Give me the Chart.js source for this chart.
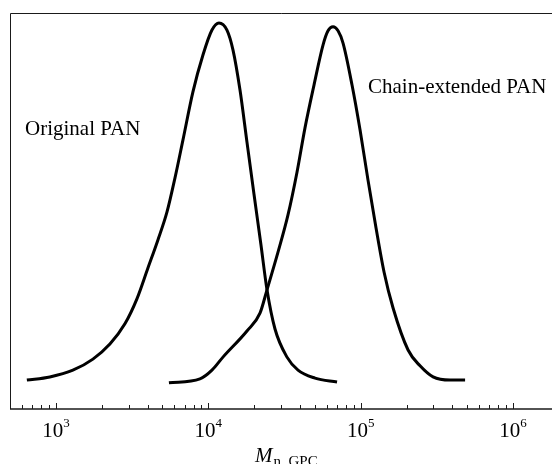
<!DOCTYPE html>
<html>
<head>
<meta charset="utf-8">
<script src="https://cdn.jsdelivr.net/npm/chart.js@4.4.1/dist/chart.umd.min.js"></script>
<style>
  body { margin: 0; background: #fff; }
  canvas { display: block; }
</style>
</head>
<body>
<canvas id="gpc" width="552" height="464"></canvas>
<script>
// GPC traces: molar mass vs. detector signal (arb. units, 0-100)
const originalM = [645, 913, 1293, 1750, 2262, 2838, 3402, 4018, 4673, 5354, 6042, 6817, 7930, 9226,
  10570, 11750, 13260, 14520, 16140, 17940, 19940, 22170, 24280, 27400, 32850, 38790, 50140, 69960];
const originalSignal = [7.3, 8.1, 9.8, 12.6, 16.4, 21.5, 27.8, 35.6, 42.7, 49.7, 58.3, 67.9, 80.1, 89.4,
  95.7, 97.5, 95.7, 90.7, 80.6, 67.4, 54.3, 41.4, 30.1, 20.2, 13.1, 9.8, 7.8, 6.8];

const extendedM = [5518, 8817, 10570, 12480, 17940, 21840, 24280, 28670, 33340, 38200, 43110,
  49390, 56590, 61040, 65820, 71030, 76590, 87740, 99010, 111700, 126100, 142300, 163100,
  204600, 245200, 298500, 386000, 484200];
const extendedSignal = [6.6, 7.6, 9.8, 13.1, 19.7, 24.2, 30.1, 39.6, 49.0, 59.8, 71.0,
  81.8, 91.9, 95.5, 96.5, 95.5, 92.4, 81.8, 70.5, 57.8, 45.7, 34.6, 25.5,
  14.9, 10.9, 8.1, 7.3, 7.3];

// axis ticks
const majorTicks = [1e3, 1e4, 1e5, 1e6];
const majorExponents = ['3', '4', '5', '6'];
const minorTicks = [600, 700, 800, 900,
  2000, 3000, 4000, 5000, 6000, 7000, 8000, 9000,
  20000, 30000, 40000, 50000, 60000, 70000, 80000, 90000,
  200000, 300000, 400000, 500000, 600000, 700000, 800000, 900000];

const curveLabels = ['Original PAN', 'Chain-extended PAN'];

const serif = '"Liberation Serif", "DejaVu Serif", serif';

const toPoints = (xs, ys) => xs.map((x, i) => ({ x: x, y: ys[i] }));

// frame, inward ticks, 10^n labels and text drawn on top of the chart
const frame = {
  id: 'frame',
  afterDraw(chart) {
    const { ctx, chartArea: a, scales: { x, y } } = chart;
    ctx.save();
    ctx.strokeStyle = '#1a1a1a';
    ctx.lineWidth = 1;
    ctx.beginPath();
    ctx.moveTo(a.left + 0.5, a.bottom);
    ctx.lineTo(a.left + 0.5, a.top + 0.5);
    ctx.lineTo(a.right, a.top + 0.5);
    ctx.stroke();

    ctx.lineWidth = 1.5;
    ctx.beginPath();
    ctx.moveTo(a.left, a.bottom);
    ctx.lineTo(a.right, a.bottom);
    ctx.stroke();

    ctx.lineWidth = 1;
    ctx.beginPath();
    majorTicks.forEach(v => {
      const px = Math.round(x.getPixelForValue(v)) + 0.5;
      ctx.moveTo(px, a.bottom);
      ctx.lineTo(px, a.bottom - 6);
    });
    minorTicks.forEach(v => {
      const px = Math.round(x.getPixelForValue(v)) + 0.5;
      ctx.moveTo(px, a.bottom);
      ctx.lineTo(px, a.bottom - 4);
    });
    ctx.stroke();

    // tick labels 10^n
    ctx.fillStyle = '#000';
    ctx.textBaseline = 'alphabetic';
    ctx.textAlign = 'left';
    majorTicks.forEach((v, i) => {
      const px = x.getPixelForValue(v);
      ctx.font = '21px ' + serif;
      const wBase = ctx.measureText('10').width;
      ctx.font = '13px ' + serif;
      const wExp = ctx.measureText(majorExponents[i]).width;
      const start = px - (wBase + wExp) / 2;
      ctx.font = '21px ' + serif;
      ctx.fillText('10', start, a.bottom + 28);
      ctx.font = '13px ' + serif;
      ctx.fillText(majorExponents[i], start + wBase, a.bottom + 18);
    });

    // axis title M_n, GPC
    ctx.font = 'italic 21px ' + serif;
    ctx.fillText('M', 255, a.bottom + 53);
    const wM = ctx.measureText('M').width;
    ctx.font = '15px ' + serif;
    ctx.fillText('n, GPC', 255 + wM + 1, a.bottom + 57);

    // curve labels
    ctx.font = '21px ' + serif;
    ctx.fillText(curveLabels[0], x.getPixelForValue(627), y.getPixelForValue(69.2));
    ctx.fillText(curveLabels[1], x.getPixelForValue(111700), y.getPixelForValue(79.8));
    ctx.restore();
  }
};

const ctx = document.getElementById('gpc').getContext('2d');
new Chart(ctx, {
  type: 'line',
  data: {
    datasets: [
      {
        label: curveLabels[0],
        data: toPoints(originalM, originalSignal),
        borderColor: '#000',
        borderWidth: 3,
        pointRadius: 0,
        cubicInterpolationMode: 'monotone',
        fill: false
      },
      {
        label: curveLabels[1],
        data: toPoints(extendedM, extendedSignal),
        borderColor: '#000',
        borderWidth: 3,
        pointRadius: 0,
        cubicInterpolationMode: 'monotone',
        fill: false
      }
    ]
  },
  options: {
    responsive: false,
    animation: false,
    layout: { padding: { left: 10, top: 13, right: 0, bottom: 55 } },
    scales: {
      x: { type: 'logarithmic', min: 500, max: 1.8e6, display: false },
      y: { min: 0, max: 100, display: false }
    },
    plugins: {
      legend: { display: false },
      tooltip: { enabled: false }
    }
  },
  plugins: [frame]
});
</script>
</body>
</html>
